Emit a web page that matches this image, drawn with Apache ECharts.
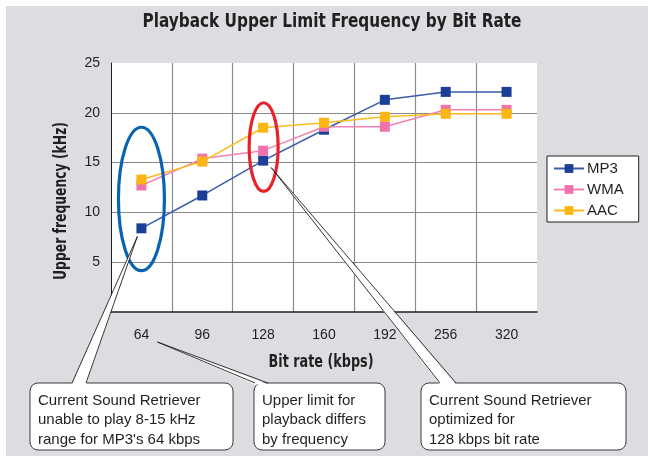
<!DOCTYPE html>
<html>
<head>
<meta charset="utf-8">
<script src="https://cdn.jsdelivr.net/npm/echarts@6/dist/echarts.min.js"></script>
<style>
html,body{margin:0;padding:0;background:#fff;}
#c{width:648px;height:456px;}
</style>
</head>
<body>
<div id="c"></div>
<script>
var categories = ['64', '96', '128', '160', '192', '256', '320'];
var mp3 = [8.4, 11.7, 15.2, 18.3, 21.3, 22.1, 22.1];
var wma = [12.7, 15.4, 16.2, 18.6, 18.6, 20.3, 20.3];
var aac = [13.3, 15.1, 18.5, 19.0, 19.6, 19.9, 19.9];
var titleText = 'Playback Upper Limit Frequency by Bit Rate';
var yName = 'Upper frequency (kHz)';
var xName = 'Bit rate (kbps)';
var notes = [
  'Current Sound Retriever\nunable to play 8-15 kHz\nrange for MP3\'s 64 kbps',
  'Upper limit for\nplayback differs\nby frequency',
  'Current Sound Retriever\noptimized for\n128 kbps bit rate'
];

var narrow = '"Liberation Sans Narrow", "DejaVu Sans Condensed", "Roboto Condensed", sans-serif';
var sans = '"Liberation Sans", Arial, sans-serif';
var chart = echarts.init(document.getElementById('c'), null, {renderer: 'canvas'});

var grid = {left: 111, right: 111, top: 63, bottom: 144};

var option = {
  backgroundColor: '#ffffff',
  animation: false,
  grid: Object.assign({show: true, backgroundColor: '#ffffff', borderWidth: 0}, grid),
  legend: {
    orient: 'vertical',
    left: 547,
    top: 156,
    padding: [5, 15, 4, 6],
    itemGap: 6,
    itemWidth: 30,
    itemHeight: 11,
    backgroundColor: '#ffffff',
    borderColor: '#231f20',
    borderWidth: 1,
    borderRadius: 0,
    textStyle: {fontFamily: sans, fontSize: 15, color: '#231f20', padding: [0, 0, 0, -2]},
    data: ['MP3', 'WMA', 'AAC']
  },
  xAxis: {
    type: 'category',
    data: categories,
    boundaryGap: true,
    axisLine: {lineStyle: {color: '#231f20', width: 1.5}},
    axisTick: {show: false},
    axisLabel: {fontFamily: sans, fontSize: 14, color: '#231f20', margin: 16},
    splitLine: {show: true, lineStyle: {color: ['transparent', '#8a8a8a', '#8a8a8a', '#8a8a8a', '#8a8a8a', '#8a8a8a', '#8a8a8a', 'transparent'], width: 1.2}}
  },
  yAxis: {
    type: 'value',
    min: 0,
    max: 25,
    interval: 5,
    axisLine: {show: true, lineStyle: {color: '#231f20', width: 1}},
    axisTick: {show: false},
    axisLabel: {fontFamily: sans, fontSize: 14, color: '#231f20', margin: 11, formatter: function (v) { return v === 0 ? '' : v; }},
    splitLine: {show: true, lineStyle: {color: ['transparent', '#8a8a8a', '#8a8a8a', '#8a8a8a', '#8a8a8a', 'transparent'], width: 1.2}}
  },
  series: [
    {name: 'MP3', type: 'line', data: mp3, symbol: 'rect', symbolSize: 10,
     lineStyle: {color: '#3b5ca8', width: 1.5}, itemStyle: {color: '#1b3f97'}},
    {name: 'WMA', type: 'line', data: wma, symbol: 'rect', symbolSize: 10,
     lineStyle: {color: '#f382b4', width: 1.5}, itemStyle: {color: '#ef73aa'}},
    {name: 'AAC', type: 'line', data: aac, symbol: 'rect', symbolSize: 10,
     lineStyle: {color: '#fdbb1e', width: 1.5}, itemStyle: {color: '#fcb614'}}
  ]
};
chart.setOption(option);

function px(ci, v) { return chart.convertToPixel({gridIndex: 0}, [ci, v]); }

// condensed-looking bold text: measure and squeeze horizontally to target width
var mctx = document.createElement('canvas').getContext('2d');
function fitScale(text, font, target) {
  mctx.font = font;
  return target / mctx.measureText(text).width;
}
var titleFont = 'bold 20px ' + narrow;
var nameFont = 'bold 17px ' + narrow;
var titleScale = fitScale(titleText, titleFont, 379);
var yScale = fitScale(yName, nameFont, 158);
var xScale = fitScale(xName, nameFont, 105);

// annotation geometry
var blueC = px(0, 11.35);
var redC = px(2, 16.56);
var unitPx = px(0, 0)[1] - px(0, 1)[1];
var tip1 = px(0, mp3[0]); tip1 = [tip1[0] - 4, tip1[1] + 8];
var tip3 = px(2, mp3[2]); tip3 = [tip3[0] + 8, tip3[1] + 7];
var lab64 = px(0, 0);
var tip2 = [lab64[0] + 16, lab64[1] + 30];

var boxTop = 383, boxH = 67;
var boxes = [
  {x: 30, w: 203, text: notes[0], base: [72, 86]},
  {x: 254, w: 131, text: notes[1], base: [255, 268]},
  {x: 421, w: 205, text: notes[2], base: [440, 456]}
];
var tips = [tip1, tip2, tip3];

var g = [];
g.push({type: 'rect', z: -10, silent: true, shape: {x: 6, y: 6, width: 642, height: 450}, style: {fill: '#dcdde0'}});
g.push({type: 'text', z: 10, silent: true, x: 332, y: 22, scaleX: titleScale,
        style: {text: titleText, font: titleFont, fill: '#231f20', align: 'center', verticalAlign: 'middle'}});
g.push({type: 'text', z: 10, silent: true, x: 62, y: 201, rotation: Math.PI / 2, scaleX: yScale,
        style: {text: yName, font: nameFont, fill: '#231f20', align: 'center', verticalAlign: 'middle'}});
g.push({type: 'text', z: 10, silent: true, x: 321, y: 363, scaleX: xScale,
        style: {text: xName, font: nameFont, fill: '#231f20', align: 'center', verticalAlign: 'middle'}});
g.push({type: 'ellipse', z: 50, silent: true, shape: {cx: blueC[0], cy: blueC[1], rx: 23, ry: 7.2 * unitPx},
        style: {fill: 'none', stroke: '#0a63b0', lineWidth: 3.2}});
g.push({type: 'ellipse', z: 50, silent: true, shape: {cx: redC[0] + 0.5, cy: redC[1], rx: 14.5, ry: 4.45 * unitPx},
        style: {fill: 'none', stroke: '#e52329', lineWidth: 3.2}});
boxes.forEach(function (b, i) {
  g.push({type: 'rect', z: 60, silent: true, shape: {x: b.x, y: boxTop, width: b.w, height: boxH, r: 8},
          style: {fill: '#ffffff', stroke: '#3a3a3a', lineWidth: 1}});
  g.push({type: 'text', z: 62, silent: true, x: b.x + 8, y: boxTop + 8,
          style: {text: b.text, font: '15px ' + sans, fill: '#231f20', lineHeight: 19.5}});
  var t = tips[i];
  g.push({type: 'polygon', z: 61, silent: true,
          shape: {points: [[b.base[0], boxTop + 1.5], t, [b.base[1], boxTop + 1.5]]},
          style: {fill: '#ffffff', stroke: null}});
  g.push({type: 'polyline', z: 61, silent: true,
          shape: {points: [[b.base[0], boxTop], t, [b.base[1], boxTop]]},
          style: {fill: null, stroke: '#231f20', lineWidth: 0.9}});
});
chart.setOption({graphic: g});
</script>
</body>
</html>
